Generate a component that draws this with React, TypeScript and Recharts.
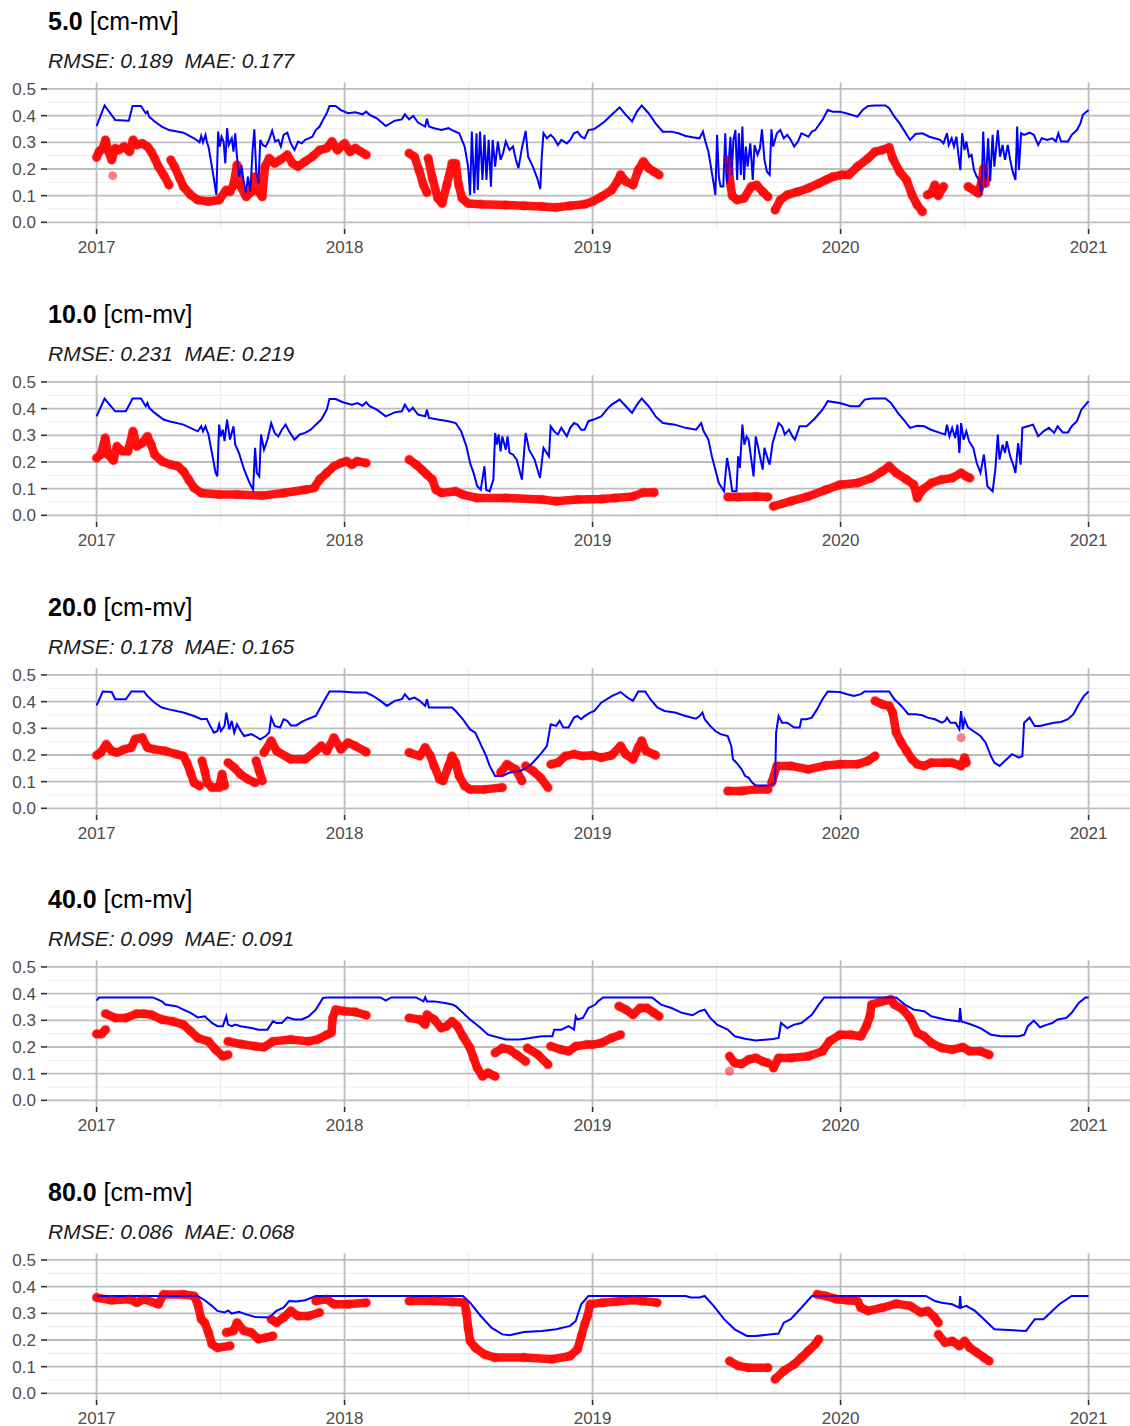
import { ComposedChart, Line, Scatter, XAxis, YAxis, CartesianGrid } from "recharts"

type Pt = [number, number]

// panel labels and scores
const depths = ["5.0", "10.0", "20.0", "40.0", "80.0"]
const rmse = ["0.189", "0.231", "0.178", "0.099", "0.086"]
const mae = ["0.177", "0.219", "0.165", "0.091", "0.068"]

const yearTicks = [2017, 2018, 2019, 2020, 2021]
const minorYears = [2017.5, 2018.5, 2019.5, 2020.5]
const valueTicks = [0, 0.1, 0.2, 0.3, 0.4, 0.5]
const minorValues = [0.05, 0.15, 0.25, 0.35, 0.45]

// simulated soil moisture (blue), [decimal year, value]
const sim05: Pt[] = [
  [2017.0, 0.361], [2017.032, 0.438], [2017.075, 0.384], [2017.13, 0.381], [2017.145, 0.436], [2017.179, 0.436],
  [2017.198, 0.409], [2017.205, 0.415], [2017.212, 0.396], [2017.234, 0.378], [2017.263, 0.359], [2017.292, 0.346],
  [2017.35, 0.336], [2017.393, 0.315], [2017.415, 0.3], [2017.422, 0.324], [2017.429, 0.3], [2017.439, 0.328],
  [2017.445, 0.3], [2017.451, 0.284], [2017.465, 0.209], [2017.483, 0.103], [2017.49, 0.34], [2017.497, 0.284],
  [2017.504, 0.321], [2017.512, 0.303], [2017.519, 0.221], [2017.526, 0.353], [2017.533, 0.29], [2017.545, 0.315],
  [2017.552, 0.265], [2017.559, 0.334], [2017.566, 0.246], [2017.575, 0.171], [2017.584, 0.215], [2017.592, 0.159],
  [2017.603, 0.109], [2017.61, 0.171], [2017.62, 0.115], [2017.629, 0.271], [2017.636, 0.349], [2017.644, 0.184],
  [2017.653, 0.146], [2017.66, 0.309], [2017.67, 0.29], [2017.682, 0.284], [2017.696, 0.311], [2017.708, 0.344],
  [2017.72, 0.303], [2017.733, 0.309], [2017.743, 0.284], [2017.754, 0.328], [2017.769, 0.336], [2017.783, 0.296],
  [2017.798, 0.271], [2017.812, 0.303], [2017.827, 0.296], [2017.841, 0.309], [2017.855, 0.315], [2017.87, 0.321],
  [2017.884, 0.346], [2017.899, 0.359], [2017.913, 0.384], [2017.928, 0.409], [2017.939, 0.436], [2017.964, 0.436],
  [2017.985, 0.421], [2018.014, 0.409], [2018.043, 0.413], [2018.072, 0.405], [2018.087, 0.415], [2018.101, 0.403],
  [2018.13, 0.39], [2018.166, 0.361], [2018.202, 0.381], [2018.231, 0.386], [2018.243, 0.405], [2018.26, 0.386],
  [2018.277, 0.399], [2018.296, 0.374], [2018.325, 0.359], [2018.332, 0.388], [2018.34, 0.359], [2018.361, 0.353],
  [2018.39, 0.346], [2018.419, 0.353], [2018.433, 0.346], [2018.462, 0.334], [2018.484, 0.284], [2018.498, 0.209],
  [2018.506, 0.103], [2018.513, 0.34], [2018.523, 0.109], [2018.532, 0.334], [2018.537, 0.121], [2018.546, 0.34],
  [2018.556, 0.159], [2018.564, 0.328], [2018.572, 0.159], [2018.581, 0.309], [2018.59, 0.134], [2018.597, 0.309],
  [2018.607, 0.209], [2018.618, 0.303], [2018.629, 0.234], [2018.639, 0.259], [2018.65, 0.303], [2018.665, 0.271],
  [2018.679, 0.284], [2018.691, 0.234], [2018.701, 0.203], [2018.715, 0.278], [2018.73, 0.343], [2018.74, 0.246],
  [2018.759, 0.209], [2018.777, 0.165], [2018.789, 0.125], [2018.795, 0.246], [2018.802, 0.334], [2018.816, 0.315],
  [2018.831, 0.328], [2018.845, 0.315], [2018.86, 0.29], [2018.874, 0.309], [2018.896, 0.296], [2018.91, 0.309],
  [2018.925, 0.334], [2018.939, 0.34], [2018.954, 0.321], [2018.968, 0.315], [2018.983, 0.346], [2019.004, 0.349],
  [2019.021, 0.359], [2019.049, 0.378], [2019.077, 0.403], [2019.109, 0.431], [2019.134, 0.403], [2019.159, 0.378],
  [2019.179, 0.415], [2019.198, 0.438], [2019.226, 0.409], [2019.254, 0.371], [2019.283, 0.34], [2019.318, 0.34],
  [2019.346, 0.334], [2019.375, 0.324], [2019.403, 0.319], [2019.431, 0.315], [2019.445, 0.34], [2019.455, 0.303],
  [2019.467, 0.265], [2019.477, 0.209], [2019.488, 0.146], [2019.495, 0.103], [2019.502, 0.328], [2019.509, 0.171],
  [2019.516, 0.134], [2019.527, 0.134], [2019.535, 0.334], [2019.542, 0.146], [2019.547, 0.203], [2019.556, 0.321],
  [2019.561, 0.178], [2019.568, 0.309], [2019.576, 0.346], [2019.583, 0.159], [2019.59, 0.334], [2019.598, 0.178],
  [2019.604, 0.359], [2019.611, 0.159], [2019.618, 0.284], [2019.625, 0.209], [2019.636, 0.296], [2019.646, 0.159],
  [2019.653, 0.29], [2019.665, 0.253], [2019.675, 0.278], [2019.683, 0.349], [2019.693, 0.234], [2019.703, 0.19],
  [2019.714, 0.178], [2019.721, 0.349], [2019.728, 0.284], [2019.743, 0.334], [2019.757, 0.346], [2019.771, 0.315],
  [2019.785, 0.328], [2019.799, 0.309], [2019.813, 0.284], [2019.828, 0.303], [2019.842, 0.334], [2019.856, 0.328],
  [2019.87, 0.321], [2019.884, 0.34], [2019.898, 0.346], [2019.912, 0.365], [2019.927, 0.384], [2019.948, 0.421],
  [2019.969, 0.415], [2019.997, 0.415], [2020.033, 0.406], [2020.068, 0.396], [2020.089, 0.421], [2020.111, 0.436],
  [2020.139, 0.438], [2020.181, 0.438], [2020.196, 0.428], [2020.217, 0.396], [2020.238, 0.371], [2020.259, 0.34],
  [2020.28, 0.309], [2020.302, 0.331], [2020.33, 0.334], [2020.358, 0.321], [2020.38, 0.315], [2020.401, 0.309],
  [2020.415, 0.296], [2020.429, 0.334], [2020.436, 0.29], [2020.448, 0.315], [2020.457, 0.284], [2020.467, 0.321],
  [2020.476, 0.246], [2020.483, 0.196], [2020.49, 0.334], [2020.5, 0.271], [2020.507, 0.303], [2020.518, 0.246],
  [2020.528, 0.253], [2020.538, 0.196], [2020.549, 0.171], [2020.559, 0.159], [2020.568, 0.103], [2020.575, 0.34],
  [2020.585, 0.134], [2020.595, 0.315], [2020.603, 0.153], [2020.613, 0.328], [2020.62, 0.209], [2020.634, 0.346],
  [2020.643, 0.246], [2020.653, 0.29], [2020.663, 0.234], [2020.674, 0.29], [2020.684, 0.234], [2020.694, 0.19],
  [2020.705, 0.159], [2020.712, 0.359], [2020.719, 0.196], [2020.728, 0.334], [2020.74, 0.328], [2020.762, 0.336],
  [2020.779, 0.328], [2020.797, 0.29], [2020.811, 0.315], [2020.833, 0.309], [2020.854, 0.315], [2020.868, 0.303],
  [2020.878, 0.334], [2020.889, 0.303], [2020.917, 0.303], [2020.932, 0.328], [2020.953, 0.346], [2020.967, 0.371],
  [2020.977, 0.403], [2021.0, 0.421],
]

const sim10: Pt[] = [
  [2017.0, 0.371], [2017.032, 0.438], [2017.075, 0.39], [2017.118, 0.39], [2017.145, 0.438], [2017.179, 0.438],
  [2017.198, 0.409], [2017.205, 0.421], [2017.212, 0.403], [2017.234, 0.384], [2017.27, 0.359], [2017.292, 0.353],
  [2017.35, 0.34], [2017.408, 0.315], [2017.422, 0.334], [2017.429, 0.315], [2017.439, 0.334], [2017.451, 0.303],
  [2017.465, 0.234], [2017.48, 0.159], [2017.487, 0.146], [2017.494, 0.34], [2017.501, 0.296], [2017.509, 0.321],
  [2017.516, 0.278], [2017.526, 0.359], [2017.538, 0.284], [2017.552, 0.334], [2017.559, 0.265], [2017.574, 0.234],
  [2017.595, 0.171], [2017.617, 0.121], [2017.631, 0.096], [2017.639, 0.253], [2017.646, 0.159], [2017.656, 0.146],
  [2017.663, 0.303], [2017.675, 0.246], [2017.689, 0.284], [2017.704, 0.346], [2017.718, 0.309], [2017.733, 0.296],
  [2017.747, 0.321], [2017.762, 0.34], [2017.776, 0.315], [2017.798, 0.284], [2017.819, 0.303], [2017.841, 0.309],
  [2017.863, 0.321], [2017.884, 0.34], [2017.906, 0.359], [2017.928, 0.396], [2017.939, 0.436], [2017.964, 0.436],
  [2017.993, 0.424], [2018.029, 0.415], [2018.051, 0.421], [2018.072, 0.411], [2018.087, 0.424], [2018.101, 0.409],
  [2018.13, 0.396], [2018.166, 0.371], [2018.202, 0.386], [2018.231, 0.39], [2018.243, 0.415], [2018.26, 0.39],
  [2018.275, 0.403], [2018.296, 0.378], [2018.325, 0.371], [2018.332, 0.396], [2018.34, 0.365], [2018.376, 0.359],
  [2018.419, 0.353], [2018.448, 0.346], [2018.47, 0.315], [2018.491, 0.259], [2018.506, 0.196], [2018.52, 0.159],
  [2018.535, 0.109], [2018.549, 0.096], [2018.564, 0.184], [2018.571, 0.096], [2018.585, 0.09], [2018.6, 0.134],
  [2018.607, 0.309], [2018.614, 0.265], [2018.621, 0.303], [2018.629, 0.24], [2018.636, 0.296], [2018.65, 0.246],
  [2018.657, 0.296], [2018.665, 0.234], [2018.679, 0.228], [2018.694, 0.209], [2018.715, 0.134], [2018.73, 0.309],
  [2018.744, 0.246], [2018.766, 0.209], [2018.788, 0.14], [2018.802, 0.253], [2018.824, 0.221], [2018.831, 0.334],
  [2018.845, 0.315], [2018.86, 0.303], [2018.874, 0.328], [2018.896, 0.296], [2018.91, 0.328], [2018.925, 0.346],
  [2018.939, 0.34], [2018.954, 0.321], [2018.968, 0.321], [2018.983, 0.353], [2019.004, 0.359], [2019.035, 0.371],
  [2019.063, 0.403], [2019.077, 0.415], [2019.109, 0.434], [2019.134, 0.409], [2019.159, 0.384], [2019.179, 0.415],
  [2019.198, 0.438], [2019.226, 0.409], [2019.254, 0.371], [2019.283, 0.346], [2019.332, 0.34], [2019.375, 0.328],
  [2019.417, 0.321], [2019.438, 0.346], [2019.448, 0.315], [2019.467, 0.284], [2019.481, 0.221], [2019.495, 0.171],
  [2019.509, 0.121], [2019.53, 0.09], [2019.542, 0.215], [2019.552, 0.165], [2019.563, 0.09], [2019.58, 0.09],
  [2019.587, 0.221], [2019.594, 0.178], [2019.604, 0.34], [2019.612, 0.265], [2019.621, 0.296], [2019.629, 0.284],
  [2019.639, 0.215], [2019.649, 0.146], [2019.658, 0.296], [2019.668, 0.253], [2019.679, 0.203], [2019.686, 0.171],
  [2019.693, 0.253], [2019.707, 0.209], [2019.714, 0.19], [2019.726, 0.271], [2019.74, 0.315], [2019.75, 0.346],
  [2019.764, 0.334], [2019.775, 0.303], [2019.792, 0.321], [2019.806, 0.296], [2019.816, 0.284], [2019.835, 0.334],
  [2019.863, 0.334], [2019.877, 0.346], [2019.898, 0.365], [2019.927, 0.396], [2019.948, 0.428], [2019.997, 0.421],
  [2020.04, 0.409], [2020.075, 0.409], [2020.097, 0.434], [2020.125, 0.438], [2020.181, 0.438], [2020.203, 0.421],
  [2020.231, 0.384], [2020.259, 0.353], [2020.28, 0.328], [2020.309, 0.336], [2020.337, 0.334], [2020.365, 0.321],
  [2020.401, 0.309], [2020.422, 0.303], [2020.429, 0.34], [2020.439, 0.296], [2020.45, 0.328], [2020.462, 0.29],
  [2020.471, 0.34], [2020.479, 0.234], [2020.486, 0.346], [2020.496, 0.284], [2020.507, 0.315], [2020.518, 0.278],
  [2020.535, 0.253], [2020.549, 0.196], [2020.564, 0.159], [2020.578, 0.228], [2020.592, 0.109], [2020.613, 0.09],
  [2020.624, 0.171], [2020.634, 0.303], [2020.641, 0.209], [2020.653, 0.265], [2020.663, 0.234], [2020.67, 0.278],
  [2020.684, 0.221], [2020.698, 0.184], [2020.705, 0.159], [2020.716, 0.271], [2020.726, 0.19], [2020.733, 0.328],
  [2020.755, 0.334], [2020.776, 0.34], [2020.797, 0.296], [2020.818, 0.315], [2020.84, 0.328], [2020.861, 0.309],
  [2020.875, 0.334], [2020.896, 0.311], [2020.917, 0.311], [2020.932, 0.334], [2020.953, 0.353], [2020.971, 0.396],
  [2021.0, 0.428],
]

const sim20: Pt[] = [
  [2017.0, 0.386], [2017.025, 0.438], [2017.061, 0.436], [2017.075, 0.409], [2017.118, 0.409], [2017.14, 0.438],
  [2017.191, 0.438], [2017.205, 0.421], [2017.234, 0.396], [2017.263, 0.378], [2017.292, 0.371], [2017.35, 0.359],
  [2017.393, 0.346], [2017.422, 0.334], [2017.444, 0.336], [2017.458, 0.309], [2017.473, 0.284], [2017.487, 0.29],
  [2017.494, 0.315], [2017.501, 0.29], [2017.516, 0.309], [2017.523, 0.359], [2017.535, 0.296], [2017.545, 0.328],
  [2017.555, 0.284], [2017.566, 0.315], [2017.581, 0.29], [2017.595, 0.271], [2017.624, 0.278], [2017.639, 0.271],
  [2017.66, 0.259], [2017.682, 0.271], [2017.696, 0.284], [2017.704, 0.34], [2017.718, 0.309], [2017.74, 0.303],
  [2017.754, 0.334], [2017.769, 0.328], [2017.783, 0.311], [2017.805, 0.311], [2017.827, 0.324], [2017.855, 0.336],
  [2017.884, 0.346], [2017.913, 0.396], [2017.939, 0.438], [2017.986, 0.438], [2018.014, 0.436], [2018.043, 0.434],
  [2018.087, 0.434], [2018.116, 0.421], [2018.145, 0.403], [2018.171, 0.384], [2018.202, 0.403], [2018.231, 0.409],
  [2018.243, 0.428], [2018.26, 0.409], [2018.282, 0.415], [2018.303, 0.403], [2018.325, 0.384], [2018.332, 0.409],
  [2018.34, 0.378], [2018.39, 0.378], [2018.433, 0.378], [2018.448, 0.365], [2018.477, 0.334], [2018.506, 0.296],
  [2018.527, 0.284], [2018.549, 0.24], [2018.571, 0.196], [2018.585, 0.159], [2018.607, 0.121], [2018.636, 0.121],
  [2018.665, 0.134], [2018.708, 0.14], [2018.737, 0.153], [2018.759, 0.171], [2018.795, 0.209], [2018.816, 0.234],
  [2018.831, 0.315], [2018.853, 0.309], [2018.867, 0.328], [2018.882, 0.303], [2018.903, 0.303], [2018.925, 0.34],
  [2018.939, 0.346], [2018.954, 0.334], [2018.968, 0.346], [2018.99, 0.359], [2019.007, 0.365], [2019.035, 0.396],
  [2019.077, 0.421], [2019.113, 0.436], [2019.141, 0.415], [2019.163, 0.403], [2019.184, 0.438], [2019.212, 0.438],
  [2019.233, 0.409], [2019.261, 0.378], [2019.29, 0.365], [2019.332, 0.359], [2019.375, 0.346], [2019.417, 0.336],
  [2019.431, 0.346], [2019.443, 0.359], [2019.452, 0.334], [2019.474, 0.309], [2019.495, 0.29], [2019.516, 0.278],
  [2019.545, 0.271], [2019.559, 0.234], [2019.566, 0.184], [2019.58, 0.171], [2019.601, 0.146], [2019.615, 0.121],
  [2019.629, 0.115], [2019.644, 0.096], [2019.658, 0.086], [2019.714, 0.086], [2019.736, 0.096], [2019.74, 0.284],
  [2019.75, 0.346], [2019.764, 0.321], [2019.785, 0.321], [2019.813, 0.303], [2019.835, 0.303], [2019.842, 0.334],
  [2019.863, 0.334], [2019.884, 0.34], [2019.905, 0.371], [2019.927, 0.409], [2019.948, 0.438], [2019.997, 0.436],
  [2020.026, 0.428], [2020.054, 0.421], [2020.082, 0.428], [2020.097, 0.438], [2020.196, 0.438], [2020.217, 0.409],
  [2020.245, 0.384], [2020.273, 0.353], [2020.302, 0.353], [2020.33, 0.349], [2020.351, 0.34], [2020.38, 0.334],
  [2020.408, 0.321], [2020.422, 0.328], [2020.429, 0.34], [2020.443, 0.321], [2020.464, 0.321], [2020.479, 0.296],
  [2020.486, 0.365], [2020.493, 0.296], [2020.5, 0.334], [2020.514, 0.303], [2020.535, 0.29], [2020.564, 0.271],
  [2020.585, 0.246], [2020.606, 0.196], [2020.62, 0.171], [2020.641, 0.159], [2020.663, 0.178], [2020.691, 0.203],
  [2020.719, 0.19], [2020.733, 0.196], [2020.74, 0.321], [2020.762, 0.34], [2020.783, 0.309], [2020.804, 0.309],
  [2020.833, 0.315], [2020.861, 0.321], [2020.889, 0.324], [2020.917, 0.334], [2020.939, 0.353], [2020.96, 0.39],
  [2020.981, 0.421], [2021.0, 0.438],
]

const sim40: Pt[] = [
  [2017.0, 0.374], [2017.01, 0.386], [2017.227, 0.386], [2017.263, 0.371], [2017.277, 0.359], [2017.321, 0.353],
  [2017.35, 0.34], [2017.379, 0.328], [2017.408, 0.311], [2017.436, 0.315], [2017.465, 0.29], [2017.487, 0.278],
  [2017.509, 0.278], [2017.523, 0.315], [2017.53, 0.284], [2017.545, 0.278], [2017.559, 0.284], [2017.581, 0.278],
  [2017.624, 0.271], [2017.653, 0.265], [2017.689, 0.265], [2017.711, 0.296], [2017.725, 0.29], [2017.747, 0.29],
  [2017.769, 0.311], [2017.798, 0.303], [2017.827, 0.303], [2017.855, 0.315], [2017.884, 0.34], [2017.913, 0.384],
  [2017.928, 0.386], [2018.145, 0.386], [2018.166, 0.374], [2018.188, 0.386], [2018.289, 0.386], [2018.318, 0.371],
  [2018.325, 0.386], [2018.332, 0.371], [2018.361, 0.371], [2018.404, 0.365], [2018.433, 0.359], [2018.448, 0.353],
  [2018.477, 0.328], [2018.506, 0.303], [2018.549, 0.271], [2018.578, 0.246], [2018.65, 0.228], [2018.708, 0.228],
  [2018.795, 0.24], [2018.838, 0.24], [2018.845, 0.265], [2018.874, 0.265], [2018.903, 0.278], [2018.925, 0.265],
  [2018.932, 0.315], [2018.939, 0.303], [2018.961, 0.309], [2018.983, 0.346], [2019.011, 0.359], [2019.021, 0.371],
  [2019.042, 0.386], [2019.24, 0.386], [2019.276, 0.359], [2019.318, 0.346], [2019.36, 0.328], [2019.403, 0.319],
  [2019.431, 0.334], [2019.452, 0.34], [2019.474, 0.309], [2019.502, 0.284], [2019.545, 0.265], [2019.573, 0.24],
  [2019.615, 0.231], [2019.658, 0.224], [2019.729, 0.23], [2019.75, 0.234], [2019.76, 0.29], [2019.785, 0.271],
  [2019.813, 0.284], [2019.842, 0.29], [2019.884, 0.321], [2019.912, 0.359], [2019.934, 0.386], [2020.224, 0.386],
  [2020.259, 0.359], [2020.295, 0.34], [2020.337, 0.334], [2020.366, 0.315], [2020.422, 0.303], [2020.478, 0.296],
  [2020.482, 0.346], [2020.487, 0.296], [2020.521, 0.286], [2020.564, 0.271], [2020.606, 0.246], [2020.649, 0.24],
  [2020.72, 0.24], [2020.741, 0.246], [2020.755, 0.278], [2020.779, 0.299], [2020.804, 0.274], [2020.833, 0.284],
  [2020.854, 0.29], [2020.875, 0.303], [2020.91, 0.309], [2020.932, 0.328], [2020.96, 0.365], [2020.988, 0.386],
  [2021.0, 0.386],
]

const sim80: Pt[] = [
  [2017.0, 0.365], [2017.408, 0.365], [2017.436, 0.349], [2017.465, 0.328], [2017.487, 0.309], [2017.516, 0.303],
  [2017.53, 0.311], [2017.545, 0.299], [2017.574, 0.306], [2017.603, 0.296], [2017.639, 0.286], [2017.696, 0.284],
  [2017.725, 0.309], [2017.754, 0.321], [2017.776, 0.346], [2017.805, 0.344], [2017.841, 0.349], [2017.884, 0.365],
  [2018.477, 0.365], [2018.506, 0.34], [2018.549, 0.29], [2018.592, 0.246], [2018.636, 0.221], [2018.665, 0.218],
  [2018.723, 0.23], [2018.795, 0.234], [2018.853, 0.24], [2018.91, 0.253], [2018.932, 0.271], [2018.954, 0.334],
  [2018.983, 0.365], [2019.375, 0.365], [2019.396, 0.359], [2019.431, 0.359], [2019.452, 0.365], [2019.488, 0.328],
  [2019.53, 0.278], [2019.573, 0.24], [2019.622, 0.215], [2019.658, 0.215], [2019.75, 0.224], [2019.771, 0.265],
  [2019.799, 0.278], [2019.842, 0.321], [2019.884, 0.365], [2020.344, 0.365], [2020.38, 0.346], [2020.408, 0.34],
  [2020.45, 0.334], [2020.479, 0.321], [2020.482, 0.365], [2020.486, 0.321], [2020.507, 0.328], [2020.542, 0.309],
  [2020.578, 0.278], [2020.62, 0.24], [2020.748, 0.234], [2020.783, 0.278], [2020.818, 0.278], [2020.847, 0.303],
  [2020.882, 0.334], [2020.932, 0.365], [2021.0, 0.365],
]

// measured soil moisture (red), one array per unbroken run of readings
const obs05: Pt[][] = [
  [[2017.0, 0.244], [2017.01, 0.265], [2017.025, 0.278], [2017.036, 0.309], [2017.046, 0.269], [2017.061, 0.234],
   [2017.075, 0.278], [2017.09, 0.271], [2017.111, 0.284], [2017.133, 0.265], [2017.147, 0.309], [2017.162, 0.29],
   [2017.184, 0.296], [2017.205, 0.284], [2017.22, 0.265], [2017.234, 0.24], [2017.249, 0.209], [2017.27, 0.178],
   [2017.292, 0.14]],
  [[2017.299, 0.234], [2017.314, 0.209], [2017.335, 0.165], [2017.35, 0.134], [2017.379, 0.103], [2017.408, 0.084],
   [2017.451, 0.078], [2017.494, 0.084], [2017.523, 0.121], [2017.538, 0.115], [2017.552, 0.14], [2017.566, 0.215],
   [2017.578, 0.14], [2017.603, 0.096], [2017.624, 0.115], [2017.639, 0.171], [2017.653, 0.115], [2017.668, 0.096],
   [2017.679, 0.209], [2017.696, 0.24], [2017.718, 0.221], [2017.74, 0.234], [2017.769, 0.253], [2017.79, 0.221],
   [2017.812, 0.209], [2017.841, 0.228], [2017.87, 0.246], [2017.899, 0.271], [2017.928, 0.278], [2017.949, 0.303],
   [2017.971, 0.271], [2018.0, 0.296], [2018.022, 0.265], [2018.043, 0.278], [2018.065, 0.265], [2018.087, 0.253]],
  [[2018.26, 0.259], [2018.282, 0.246], [2018.3, 0.196], [2018.318, 0.14], [2018.332, 0.112]],
  [[2018.337, 0.24], [2018.354, 0.165], [2018.376, 0.09], [2018.393, 0.071], [2018.412, 0.14], [2018.433, 0.221],
   [2018.448, 0.221], [2018.46, 0.14], [2018.474, 0.09], [2018.498, 0.071], [2018.549, 0.068], [2018.65, 0.065],
   [2018.723, 0.062], [2018.795, 0.059], [2018.853, 0.056], [2018.91, 0.062], [2018.968, 0.068], [2019.0, 0.078],
   [2019.035, 0.096], [2019.077, 0.121], [2019.1, 0.153], [2019.113, 0.178], [2019.134, 0.153], [2019.163, 0.14],
   [2019.184, 0.196], [2019.205, 0.228], [2019.226, 0.203], [2019.247, 0.19], [2019.268, 0.178]],
  [[2019.545, 0.234], [2019.55, 0.196], [2019.556, 0.14], [2019.563, 0.1], [2019.583, 0.084], [2019.611, 0.09],
   [2019.64, 0.134], [2019.661, 0.14], [2019.686, 0.115], [2019.707, 0.096]],
  [[2019.736, 0.046], [2019.757, 0.084], [2019.785, 0.103], [2019.828, 0.115], [2019.87, 0.128], [2019.912, 0.146],
   [2019.941, 0.159], [2019.969, 0.171], [2020.005, 0.178], [2020.033, 0.178], [2020.068, 0.209], [2020.111, 0.24],
   [2020.139, 0.265], [2020.168, 0.271], [2020.196, 0.281], [2020.21, 0.24], [2020.238, 0.19], [2020.266, 0.159],
   [2020.288, 0.103], [2020.309, 0.065], [2020.33, 0.04]],
  [[2020.35, 0.103], [2020.366, 0.109], [2020.38, 0.14], [2020.394, 0.1], [2020.415, 0.134]],
  [[2020.514, 0.134], [2020.535, 0.121], [2020.556, 0.109], [2020.57, 0.159], [2020.577, 0.203], [2020.584, 0.146]],
]

const obs10: Pt[][] = [
  [[2017.0, 0.215], [2017.017, 0.228], [2017.035, 0.29], [2017.046, 0.228], [2017.068, 0.206], [2017.082, 0.259],
   [2017.104, 0.24], [2017.126, 0.24], [2017.147, 0.315], [2017.162, 0.259], [2017.184, 0.271], [2017.205, 0.296],
   [2017.22, 0.265], [2017.234, 0.228], [2017.263, 0.203], [2017.299, 0.19], [2017.328, 0.184], [2017.35, 0.165],
   [2017.371, 0.134], [2017.393, 0.103], [2017.422, 0.084], [2017.494, 0.078], [2017.566, 0.078], [2017.668, 0.074],
   [2017.754, 0.084], [2017.841, 0.096], [2017.877, 0.103], [2017.899, 0.134], [2017.928, 0.159], [2017.957, 0.184],
   [2017.985, 0.196], [2018.007, 0.203], [2018.029, 0.19], [2018.051, 0.203], [2018.087, 0.196]],
  [[2018.26, 0.209], [2018.289, 0.19], [2018.311, 0.171], [2018.332, 0.153], [2018.354, 0.134], [2018.368, 0.096],
   [2018.39, 0.084], [2018.448, 0.09], [2018.477, 0.078], [2018.535, 0.065], [2018.65, 0.065], [2018.795, 0.059],
   [2018.853, 0.053], [2018.939, 0.059], [2019.037, 0.061], [2019.092, 0.065], [2019.163, 0.071], [2019.205, 0.086],
   [2019.248, 0.086]],
  [[2019.545, 0.069], [2019.587, 0.069], [2019.658, 0.071], [2019.707, 0.069]],
  [[2019.729, 0.034], [2019.8, 0.053], [2019.87, 0.071], [2019.941, 0.096], [2019.997, 0.115], [2020.068, 0.121],
   [2020.125, 0.14], [2020.168, 0.165], [2020.196, 0.184], [2020.224, 0.159], [2020.266, 0.134], [2020.295, 0.115],
   [2020.309, 0.065], [2020.33, 0.096], [2020.366, 0.121], [2020.408, 0.134], [2020.45, 0.14], [2020.486, 0.159],
   [2020.507, 0.146], [2020.521, 0.14]],
]

const obs20: Pt[][] = [
  [[2017.0, 0.199], [2017.017, 0.209], [2017.039, 0.24], [2017.061, 0.215], [2017.082, 0.209], [2017.111, 0.221],
   [2017.14, 0.228], [2017.155, 0.259], [2017.184, 0.265], [2017.205, 0.228], [2017.234, 0.221], [2017.277, 0.215],
   [2017.321, 0.203], [2017.35, 0.196], [2017.364, 0.171], [2017.379, 0.134], [2017.393, 0.096], [2017.415, 0.084]],
  [[2017.425, 0.178], [2017.436, 0.14], [2017.446, 0.096], [2017.465, 0.078], [2017.494, 0.078], [2017.506, 0.128],
   [2017.516, 0.085]],
  [[2017.53, 0.171], [2017.555, 0.153], [2017.58, 0.128], [2017.61, 0.109], [2017.639, 0.096]],
  [[2017.643, 0.178], [2017.656, 0.14], [2017.668, 0.103]],
  [[2017.675, 0.209], [2017.704, 0.253], [2017.726, 0.215], [2017.783, 0.184], [2017.841, 0.184], [2017.884, 0.215],
   [2017.906, 0.234], [2017.928, 0.215], [2017.957, 0.265], [2017.985, 0.221], [2018.014, 0.246], [2018.043, 0.234],
   [2018.087, 0.211]],
  [[2018.26, 0.209], [2018.303, 0.196], [2018.325, 0.228], [2018.347, 0.196], [2018.361, 0.159], [2018.383, 0.109],
   [2018.397, 0.103], [2018.419, 0.159], [2018.433, 0.196], [2018.448, 0.171], [2018.462, 0.121], [2018.484, 0.084],
   [2018.506, 0.071], [2018.564, 0.071], [2018.636, 0.078]],
  [[2018.629, 0.134], [2018.655, 0.165], [2018.69, 0.146], [2018.715, 0.103]],
  [[2018.73, 0.159], [2018.76, 0.14], [2018.79, 0.115], [2018.82, 0.078]],
  [[2018.832, 0.165], [2018.86, 0.171], [2018.89, 0.196], [2018.925, 0.203], [2018.96, 0.196], [2019.0, 0.199],
   [2019.035, 0.19], [2019.077, 0.199], [2019.113, 0.234], [2019.134, 0.203], [2019.163, 0.184], [2019.184, 0.228],
   [2019.198, 0.253], [2019.215, 0.215], [2019.254, 0.199]],
  [[2019.545, 0.065], [2019.601, 0.065], [2019.658, 0.071], [2019.707, 0.071]],
  [[2019.722, 0.096], [2019.743, 0.159], [2019.8, 0.159], [2019.87, 0.146], [2019.941, 0.161], [2019.997, 0.165],
   [2020.068, 0.165], [2020.111, 0.178], [2020.139, 0.196]],
  [[2020.139, 0.403], [2020.168, 0.39], [2020.196, 0.384], [2020.21, 0.359], [2020.224, 0.284], [2020.245, 0.246],
   [2020.266, 0.215], [2020.288, 0.184], [2020.309, 0.165], [2020.337, 0.159], [2020.366, 0.171], [2020.422, 0.171],
   [2020.45, 0.171], [2020.486, 0.159], [2020.5, 0.19], [2020.507, 0.171]],
]

const obs40: Pt[][] = [
  [[2017.0, 0.249], [2017.02, 0.249], [2017.036, 0.265]],
  [[2017.036, 0.325], [2017.075, 0.309], [2017.118, 0.309], [2017.162, 0.325], [2017.191, 0.325], [2017.22, 0.321],
   [2017.263, 0.303], [2017.306, 0.296], [2017.35, 0.284], [2017.379, 0.259], [2017.408, 0.234], [2017.451, 0.221],
   [2017.48, 0.19], [2017.509, 0.165], [2017.53, 0.171]],
  [[2017.53, 0.221], [2017.581, 0.211], [2017.639, 0.203], [2017.675, 0.199], [2017.711, 0.221], [2017.783, 0.228],
   [2017.855, 0.221], [2017.891, 0.228], [2017.928, 0.246], [2017.947, 0.253], [2017.952, 0.309], [2017.964, 0.34],
   [2018.0, 0.334], [2018.043, 0.331], [2018.087, 0.319]],
  [[2018.26, 0.309], [2018.303, 0.303], [2018.325, 0.284], [2018.332, 0.321], [2018.361, 0.303], [2018.39, 0.271],
   [2018.412, 0.278], [2018.433, 0.296], [2018.455, 0.278], [2018.477, 0.24], [2018.506, 0.196], [2018.52, 0.159],
   [2018.535, 0.121], [2018.556, 0.09], [2018.578, 0.103], [2018.607, 0.09]],
  [[2018.607, 0.178], [2018.636, 0.196], [2018.665, 0.19], [2018.694, 0.171], [2018.73, 0.146]],
  [[2018.737, 0.196], [2018.78, 0.171], [2018.82, 0.134]],
  [[2018.831, 0.203], [2018.874, 0.19], [2018.903, 0.184], [2018.932, 0.203], [2018.975, 0.209], [2019.0, 0.209],
   [2019.035, 0.215], [2019.077, 0.234], [2019.113, 0.246]],
  [[2019.106, 0.353], [2019.134, 0.34], [2019.163, 0.321], [2019.191, 0.346], [2019.219, 0.346], [2019.247, 0.328],
   [2019.268, 0.315]],
  [[2019.552, 0.165], [2019.573, 0.14], [2019.601, 0.136], [2019.629, 0.153], [2019.658, 0.159], [2019.686, 0.146],
   [2019.707, 0.14]],
  [[2019.729, 0.121], [2019.75, 0.159], [2019.8, 0.159], [2019.87, 0.165], [2019.927, 0.184], [2019.955, 0.221],
   [2019.997, 0.246], [2020.04, 0.246], [2020.082, 0.24], [2020.104, 0.278], [2020.118, 0.315], [2020.125, 0.359],
   [2020.168, 0.371], [2020.203, 0.378], [2020.217, 0.359], [2020.252, 0.34], [2020.28, 0.309], [2020.309, 0.253],
   [2020.337, 0.24], [2020.366, 0.215], [2020.408, 0.196], [2020.45, 0.19], [2020.493, 0.199], [2020.521, 0.184],
   [2020.564, 0.184], [2020.599, 0.171]],
]

const obs80: Pt[][] = [
  [[2017.0, 0.359], [2017.061, 0.349], [2017.133, 0.353], [2017.162, 0.34], [2017.191, 0.353], [2017.249, 0.334],
   [2017.27, 0.371], [2017.35, 0.371], [2017.393, 0.365], [2017.408, 0.334], [2017.422, 0.278], [2017.436, 0.265],
   [2017.451, 0.228], [2017.465, 0.184], [2017.487, 0.171], [2017.538, 0.178]],
  [[2017.523, 0.228], [2017.552, 0.234], [2017.566, 0.265], [2017.595, 0.234], [2017.624, 0.228], [2017.653, 0.203],
   [2017.682, 0.209], [2017.711, 0.215]],
  [[2017.704, 0.278], [2017.725, 0.265], [2017.754, 0.284], [2017.783, 0.309], [2017.812, 0.29], [2017.855, 0.29],
   [2017.899, 0.303]],
  [[2017.884, 0.346], [2017.928, 0.353], [2017.957, 0.334], [2018.014, 0.334], [2018.087, 0.34]],
  [[2018.26, 0.346], [2018.361, 0.346], [2018.433, 0.343], [2018.484, 0.34], [2018.491, 0.303], [2018.498, 0.246],
   [2018.506, 0.196], [2018.527, 0.171], [2018.564, 0.146], [2018.607, 0.134], [2018.723, 0.134], [2018.838, 0.128],
   [2018.91, 0.14], [2018.939, 0.165], [2018.955, 0.215], [2018.968, 0.26], [2018.98, 0.29], [2018.99, 0.334],
   [2019.04, 0.34], [2019.1, 0.344], [2019.163, 0.35], [2019.2, 0.346], [2019.26, 0.34]],
  [[2019.552, 0.121], [2019.587, 0.103], [2019.629, 0.096], [2019.707, 0.096]],
  [[2019.736, 0.053], [2019.771, 0.084], [2019.813, 0.109], [2019.842, 0.134], [2019.87, 0.159], [2019.898, 0.184],
   [2019.912, 0.203]],
  [[2019.905, 0.371], [2019.941, 0.365], [2019.983, 0.353], [2020.026, 0.349], [2020.068, 0.346], [2020.082, 0.321],
   [2020.111, 0.309], [2020.168, 0.321], [2020.224, 0.336], [2020.28, 0.328], [2020.323, 0.303], [2020.351, 0.309],
   [2020.38, 0.284], [2020.394, 0.265]],
  [[2020.394, 0.221], [2020.422, 0.19], [2020.45, 0.196], [2020.479, 0.178], [2020.5, 0.196], [2020.521, 0.171],
   [2020.549, 0.153], [2020.578, 0.134], [2020.599, 0.121]],
]

// isolated readings away from the runs
const stray05: Pt[] = [[2017.065, 0.175]]
const stray10: Pt[] = []
const stray20: Pt[] = [[2020.486, 0.265]]
const stray40: Pt[] = [[2019.552, 0.109]]
const stray80: Pt[] = []

const sims = [sim05, sim10, sim20, sim40, sim80]
const obss = [obs05, obs10, obs20, obs40, obs80]
const strays = [stray05, stray10, stray20, stray40, stray80]

const rows = (pts: Pt[]) => pts.map(([x, y]) => ({ x, y }))

const FONT = "'Liberation Sans', Arial, sans-serif"
const PANEL_H = 292.75
const TICK = { fill: "#4d4d4d", fontSize: 17, fontFamily: FONT }

function DepthPanel({ idx }: { idx: number }) {
  return (
    <div style={{ position: "relative", width: 1130, height: PANEL_H }}>
      <div
        style={{
          position: "absolute",
          left: 48,
          top: 9,
          fontFamily: FONT,
          fontSize: 25,
          lineHeight: 1,
          color: "#000",
          whiteSpace: "pre",
        }}
      >
        <b>{depths[idx]}</b> [cm-mv]
      </div>
      <div
        style={{
          position: "absolute",
          left: 48,
          top: 50,
          fontFamily: FONT,
          fontSize: 21,
          fontStyle: "italic",
          lineHeight: 1,
          color: "#1a1a1a",
          whiteSpace: "pre",
        }}
      >
        {`RMSE: ${rmse[idx]}  MAE: ${mae[idx]}`}
      </div>
      <div style={{ position: "absolute", left: 0, top: 75 }}>
        <ComposedChart width={1130} height={194} margin={{ top: 7.3, right: 0, bottom: 0, left: 0 }}>
          <CartesianGrid
            horizontalValues={minorValues}
            verticalValues={minorYears}
            stroke="#ebebeb"
            strokeWidth={1}
          />
          <CartesianGrid
            horizontalValues={valueTicks}
            verticalValues={yearTicks}
            stroke="#bdbdbd"
            strokeWidth={1.8}
          />
          <XAxis
            type="number"
            dataKey="x"
            domain={[2016.8, 2021.167]}
            allowDataOverflow
            ticks={yearTicks}
            interval={0}
            height={40}
            axisLine={false}
            tickSize={5}
            tickMargin={7}
            tickLine={{ stroke: "#333", strokeWidth: 1.6 }}
            tick={TICK}
          />
          <YAxis
            type="number"
            dataKey="y"
            domain={[-0.025, 0.525]}
            allowDataOverflow
            ticks={valueTicks}
            interval={0}
            width={47}
            axisLine={false}
            tickSize={6}
            tickMargin={5}
            tickLine={{ stroke: "#333", strokeWidth: 1.6 }}
            tick={TICK}
            tickFormatter={(v: number) => v.toFixed(1)}
          />
          {obss[idx].map((seg, i) => (
            <Line
              key={`obs-${i}`}
              data={rows(seg)}
              dataKey="y"
              type="linear"
              stroke="#ff0000"
              strokeOpacity={0.92}
              strokeWidth={8.5}
              strokeLinecap="round"
              strokeLinejoin="round"
              dot={{ r: 5, fill: "#ff0000", fillOpacity: 0.35, stroke: "none", strokeWidth: 0 }}
              activeDot={false}
              isAnimationActive={false}
            />
          ))}
          <Scatter
            data={rows(strays[idx])}
            dataKey="y"
            fill="#ff0000"
            fillOpacity={0.5}
            shape="circle"
            isAnimationActive={false}
          />
          <Line
            data={rows(sims[idx])}
            dataKey="y"
            type="linear"
            stroke="#0000ff"
            strokeWidth={2}
            dot={false}
            activeDot={false}
            isAnimationActive={false}
          />
        </ComposedChart>
      </div>
    </div>
  )
}

export default function App() {
  return (
    <div style={{ width: 1130, background: "#fff" }}>
      <style>{"body{margin:0;background:#fff}"}</style>
      {depths.map((_, i) => (
        <DepthPanel key={i} idx={i} />
      ))}
    </div>
  )
}
